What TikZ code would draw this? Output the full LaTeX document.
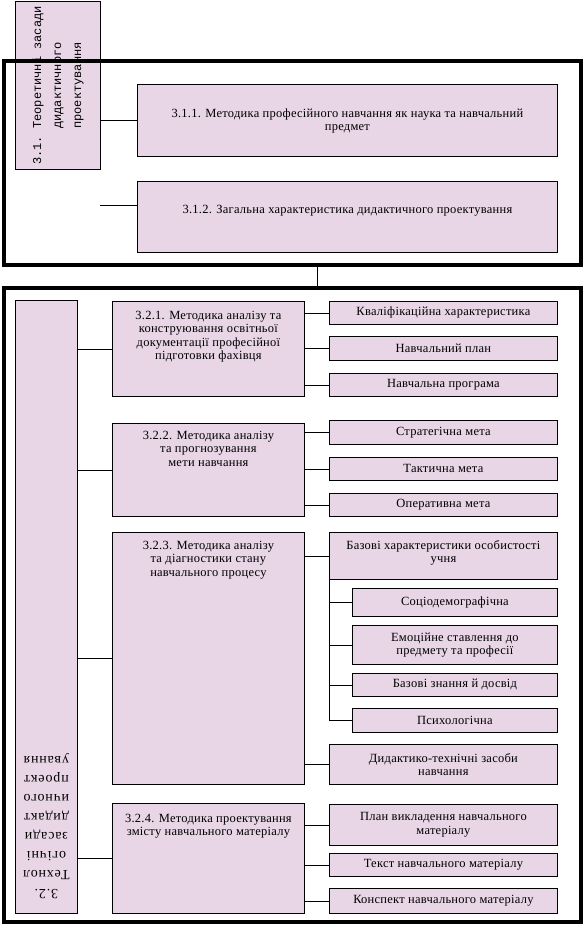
\documentclass[tikz,border=0pt]{standalone}
\usepackage{fontspec}
\setmainfont{Liberation Serif}[LetterSpace=2]
\newfontfamily\sidefont{Liberation Mono}
\newfontfamily\sideserif{Liberation Serif}[LetterSpace=6]
\usepackage{tikz}
\definecolor{boxpink}{RGB}{232,213,230}
\newcommand{\toptext}[4]{\parbox[c][#2][t]{#1}{\centering\rule{0pt}{#3}#4}}

\begin{document}
\begin{tikzpicture}[x=1pt, y=-1pt,
    box/.style={draw=black, line width=0.8pt, fill=boxpink, inner sep=0pt, align=center, font=\fontsize{12.5}{13.5}\selectfont},
    kid/.style={box, anchor=north west, minimum width=228pt},
    sub/.style={box, anchor=north west, minimum width=205pt},
    frame/.style={draw=black, line width=4.5pt, inner sep=0pt},
    link/.style={draw=black, line width=0.8pt}]
                \useasboundingbox (0,0) rectangle (586,928);

                \node[box, anchor=north west, minimum width=85pt, minimum height=168pt] (n31) at (15,1) {\rotatebox{90}{\parbox{168pt}{\centering\sidefont\fontsize{12}{20}\selectfont 3.1.~Теоретичні~засади\\ дидактичного\\ проектування}}};
                \node[box, anchor=north west] (m311) at (137,84) {\toptext{420pt}{72pt}{33pt}{3.1.1. Методика професійного навчання як наука та навчальний\\ предмет}};
                \node[box, anchor=north west] (m312) at (137,181) {\toptext{420pt}{71pt}{32pt}{3.1.2. Загальна характеристика дидактичного проектування}};

                \node[frame, minimum width=577pt, minimum height=204pt] (frame1) at (292.5,163) {};

                \node[box, anchor=north west] (n32) at (15,300) {\rotatebox{180}{\parbox[c][613pt][t]{62pt}{\centering\sideserif\fontsize{14}{19}\selectfont\rule{0pt}{24pt}3.2.\\ Технол\\ огічні\\ засади\\ дидакт\\ ичного\\ проект\\ ування}}};

                \node[box, anchor=north west] (m321) at (112,301) {\toptext{192pt}{95pt}{18pt}{3.2.1. Методика аналізу та\\ конструювання освітньої\\ документації професійної\\ підготовки фахівця}};
                \node[box, anchor=north west] (m322) at (112,423) {\toptext{192pt}{93pt}{16pt}{3.2.2. Методика аналізу\\ та прогнозування\\ мети навчання}};
                \node[box, anchor=north west] (m323) at (112,532) {\toptext{192pt}{252pt}{17pt}{3.2.3. Методика аналізу\\ та діагностики стану\\ навчального процесу}};
                \node[box, anchor=north west] (m324) at (112,803) {\toptext{192pt}{110pt}{19pt}{3.2.4. Методика проектування\\ змісту навчального матеріалу}};

                \node[kid, minimum height=23pt] (k1) at (329,301) {Кваліфікаційна характеристика};
                \node[kid, minimum height=24pt] (k2) at (329,336) {Навчальний план};
                \node[kid, minimum height=23pt] (k3) at (329,373) {Навчальна програма};
                \node[kid, minimum height=24pt] (k4) at (329,420) {Стратегічна мета};
                \node[kid, minimum height=23pt] (k5) at (329,457) {Тактична мета};
                \node[kid, minimum height=23pt] (k6) at (329,493) {Оперативна мета};
                \node[box, anchor=north west] (k7) at (329,532) {\toptext{228pt}{47pt}{17pt}{Базові характеристики особистості\\ учня}};
                \node[sub, minimum height=28pt] (s1) at (352,588) {Соціодемографічна};
                \node[sub, minimum height=39pt] (s2) at (352,625) {Емоційне ставлення до\\ предмету та професії};
                \node[sub, minimum height=23pt] (s3) at (352,673) {Базові знання й досвід};
                \node[sub, minimum height=24pt] (s4) at (352,708) {Психологічна};
                \node[kid, minimum height=40pt] (k8) at (329,744) {Дидактико-технічні засоби\\ навчання};
                \node[kid, minimum height=41pt] (k9) at (329,804) {План викладення навчального\\ матеріалу};
                \node[kid, minimum height=23pt] (k10) at (329,853) {Текст навчального матеріалу};
                \node[kid, minimum height=25pt] (k11) at (329,888) {Конспект навчального матеріалу};

                \node[frame, minimum width=577pt, minimum height=634pt] (frame2) at (292.5,605) {};

                \draw[link] (n31.east |- m311.west) -- (m311.west);
                \coordinate (c312) at (100,205);
                \draw[link] (c312) -- (c312 -| m312.west);
                \draw[link] ([xshift=24.5pt]frame1.south) -- ([xshift=24.5pt]frame2.north);

                \foreach \m in {m321,m322,m323,m324}
                    \draw[link] (n32.east |- \m.west) -- (\m.west);
                \foreach \m/\k in {m321/k1,m321/k2,m321/k3,m322/k4,m322/k5,m322/k6,m323/k7,m323/k8,m324/k9,m324/k10,m324/k11}
                    \draw[link] (\m.east |- \k.west) -- (\k.west);

                \draw[link] (k7.south west) |- (s4.west);
                \foreach \s in {s1,s2,s3}
                    \draw[link] (k7.south west |- \s.west) -- (\s.west);
            \end{tikzpicture}
\end{document}
